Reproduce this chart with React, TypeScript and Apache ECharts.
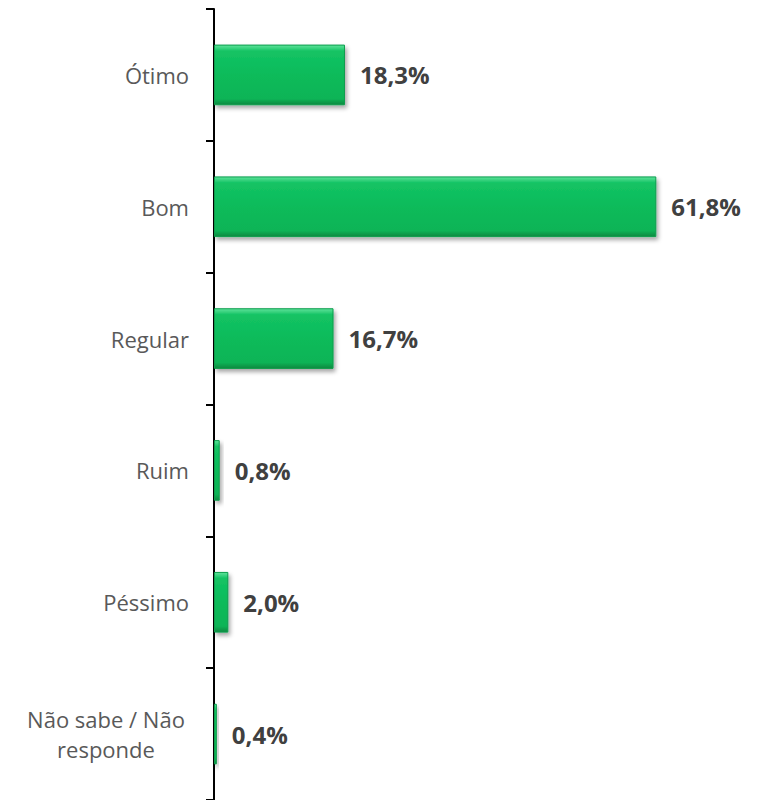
import React, { useEffect, useRef } from "react";
import * as echarts from "echarts";

const categories = ["Ótimo", "Bom", "Regular", "Ruim", "Péssimo", "Não sabe / Não responde"];
const values = [18.3, 61.8, 16.7, 0.8, 2.0, 0.4];
const xMax = 70;

export default function App() {
  const ref = useRef<HTMLDivElement>(null);
  useEffect(() => {
    if (!ref.current) return;
    const chart = echarts.init(ref.current, null, { renderer: "svg" });
    chart.setOption({
      animation: false,
      backgroundColor: "#ffffff",
      grid: { left: 206, top: 1, width: 501, height: 791, containLabel: false },
      xAxis: { type: "value", min: 0, max: xMax, show: false },
      yAxis: {
        type: "category",
        data: categories,
        inverse: true,
        axisLine: { show: true, lineStyle: { color: "#000000", width: 2 } },
        axisTick: { show: true, length: 8, lineStyle: { color: "#000000", width: 2 } },
        splitLine: { show: false },
        axisLabel: {
          margin: 25,
          fontFamily: "Open Sans",
          fontSize: 22,
          color: "#595959",
          formatter: (v: string) =>
            v === "Não sabe / Não responde" ? "{c|Não sabe / Não}\n{c|responde}" : v,
          rich: {
            c: {
              width: 166,
              align: "center",
              fontFamily: "Open Sans",
              fontSize: 22,
              color: "#595959",
              lineHeight: 30,
            },
          },
        },
      },
      series: [
        {
          type: "bar",
          data: values,
          barWidth: "46%",
          itemStyle: {
            color: {
              type: "linear",
              x: 0,
              y: 0,
              x2: 0,
              y2: 1,
              colorStops: [
                { offset: 0, color: "#5fe39b" },
                { offset: 0.1, color: "#14c364" },
                { offset: 0.5, color: "#0bbb5a" },
                { offset: 0.9, color: "#0ab457" },
                { offset: 1, color: "#07893f" },
              ],
            },
            borderColor: "#0a9d4c",
            borderWidth: 1,
            shadowColor: "rgba(0,0,0,0.35)",
            shadowBlur: 4,
            shadowOffsetX: 2,
            shadowOffsetY: 3,
          },
          label: {
            show: true,
            position: "right",
            distance: 15,
            fontFamily: "Open Sans",
            fontWeight: "bold",
            fontSize: 24,
            color: "#404040",
            formatter: (p: any) => p.value.toFixed(1).replace(".", ",") + "%",
          },
        },
      ],
    });
    return () => chart.dispose();
  }, []);
  return <div ref={ref} style={{ width: 744, height: 792 }} />;
}
